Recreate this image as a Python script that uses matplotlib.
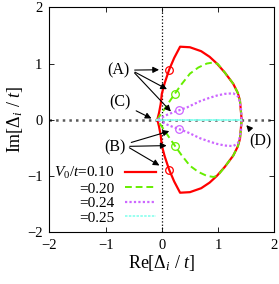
import matplotlib
matplotlib.use('Agg')
import matplotlib.pyplot as plt
import numpy as np

plt.rcParams['font.family'] = ['Liberation Serif', 'DejaVu Serif']
plt.rcParams['mathtext.fontset'] = 'custom'
plt.rcParams['mathtext.rm'] = 'Liberation Serif'
plt.rcParams['mathtext.it'] = 'Liberation Serif:italic'

# upper half of each trajectory (lower half is the mirror image)
red_x = [-0.08, -0.05, -0.02, 0.0, 0.05, 0.13, 0.22, 0.325, 0.5, 0.7, 0.85, 0.98, 1.12, 1.27, 1.35, 1.39, 1.42]
red_y = [0.0, 0.12, 0.28, 0.46, 0.65, 0.89, 1.10, 1.30, 1.29, 1.22, 1.12, 1.00, 0.84, 0.64, 0.48, 0.34, 0.0]
green_x = [-0.08, -0.03, 0.03, 0.12, 0.23, 0.35, 0.5, 0.65, 0.8, 0.92, 1.0, 1.12, 1.27, 1.35, 1.39, 1.42]
green_y = [0.0, 0.08, 0.165, 0.30, 0.46, 0.63, 0.82, 0.93, 1.0, 1.02, 0.99, 0.84, 0.64, 0.48, 0.34, 0.0]
purple_x = [-0.08, 0.0, 0.1, 0.2, 0.30, 0.45, 0.68, 0.85, 0.98, 1.12, 1.27, 1.35, 1.38, 1.41, 1.42]
purple_y = [0.0, 0.04, 0.09, 0.13, 0.165, 0.22, 0.33, 0.39, 0.43, 0.46, 0.47, 0.42, 0.34, 0.18, 0.0]
cyan_x = [-0.08, 1.42]
cyan_y = [0.0, 0.0]

# circled points on each curve
mark_x = [0.13, 0.23, 0.30]
mark_y = [0.89, 0.46, 0.165]

labels = [r'$V_0/t$=0.10', '=0.20', '=0.24', '=0.25']
colors = ['#ff0000', '#66ee00', '#cc66ff', '#88ffee']


def full(xs, ys):
    xs = np.array(xs)
    ys = np.array(ys)
    return (np.concatenate([xs[::-1], xs[1:]]),
            np.concatenate([-ys[::-1], ys[1:]]))


fig = plt.figure(figsize=(2.79, 2.84), dpi=100)
ax = fig.add_axes([0.177, 0.183, 0.806, 0.791])

ax.axhline(0, color='0.35', ls=':', lw=1.8, zorder=1)
ax.axvline(0, color='black', ls=':', lw=0.9, zorder=1)

styles = [dict(ls='-', lw=1.6),
          dict(ls=(0, (3.5, 2)), lw=1.4),
          dict(ls=(0, (1, 1)), lw=1.6),
          dict(ls=(0, (1.5, 0.8)), lw=1.2)]

curves = [(red_x, red_y), (green_x, green_y), (purple_x, purple_y), (cyan_x, cyan_y)]
handles = []
for (cx, cy), col, st, lab in zip(curves, colors, styles, labels):
    fx, fy = full(cx, cy)
    h, = ax.plot(fx, fy, color=col, label=lab, zorder=3, **st)
    handles.append(h)

for mx, my, col in zip(mark_x, mark_y, colors):
    ax.plot([mx, mx], [my, -my], ls='none', marker='o', ms=5.5, mfc='none',
            mec=col, mew=0.9, zorder=4)

ax.set_xlim(-2, 2)
ax.set_ylim(-2, 2)
ax.set_xticks([-2, -1, 0, 1, 2])
ax.set_yticks([-2, -1, 0, 1, 2])
ax.tick_params(direction='in', top=True, right=True, length=3.5, width=0.6,
               labelsize=10.5, pad=5)
for s in ax.spines.values():
    s.set_linewidth(0.8)

ax.set_xlabel(r'Re[$\mathit{Δ}_i$ / $t$]', fontsize=13, labelpad=1)
ax.set_ylabel(r'Im[$\mathit{Δ}_i$ / $t$]', fontsize=13, labelpad=1)

ap = dict(arrowstyle='-|>', color='black', lw=0.8, mutation_scale=9)
fs = 11.5
ax.annotate('(A)', xy=(0.0, 0.89), xytext=(-0.78, 0.88), fontsize=fs,
            ha='center', va='center', arrowprops=ap)
ax.annotate('', xy=(0.135, 0.52), xytext=(-0.52, 0.87), arrowprops=ap)
ax.annotate('', xy=(0.195, 0.11), xytext=(-0.52, 0.87), arrowprops=ap)
ax.annotate('(C)', xy=(-0.14, 0.0), xytext=(-0.74, 0.30), fontsize=fs,
            ha='center', va='center', arrowprops=ap)
ax.annotate('(B)', xy=(0.18, -0.19), xytext=(-0.83, -0.49), fontsize=fs,
            ha='center', va='center', arrowprops=ap)
ax.annotate('', xy=(0.135, -0.46), xytext=(-0.62, -0.475), arrowprops=ap)
ax.annotate('', xy=(0.0, -0.84), xytext=(-0.62, -0.475), arrowprops=ap)
ax.annotate('(D)', xy=(1.47, -0.06), xytext=(1.76, -0.38), fontsize=fs,
            ha='center', va='center', arrowprops=ap)

ax.legend(handles=handles, loc='lower left', bbox_to_anchor=(-0.025, -0.015),
          markerfirst=False, frameon=False, fontsize=11, handlelength=2.0,
          handletextpad=0.7, labelspacing=0.05, borderaxespad=0.3)

fig.savefig('out.png', dpi=100)
